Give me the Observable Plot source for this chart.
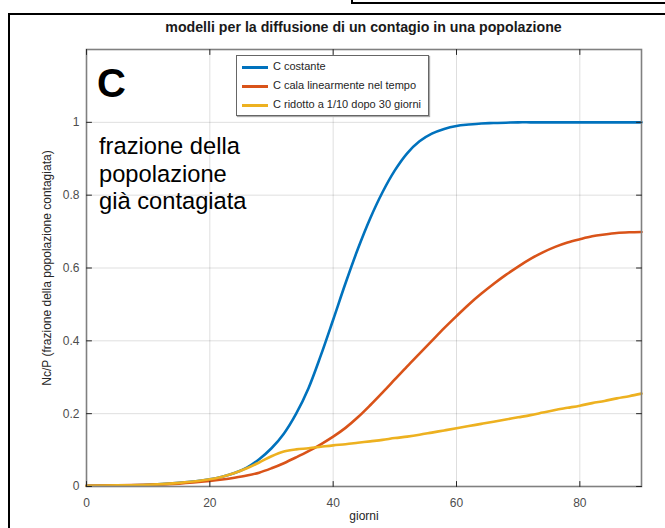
<!DOCTYPE html>
<html>
<head>
<meta charset="utf-8">
<script src="https://cdn.jsdelivr.net/npm/d3@7"></script>
<script src="https://cdn.jsdelivr.net/npm/@observablehq/plot@0.6"></script>
<style>
  html, body { margin: 0; padding: 0; background: #fff; }
  #wrap { position: relative; width: 665px; height: 528px; overflow: hidden; font-family: "Liberation Sans", Arial, sans-serif; }
  .abs { position: absolute; }
  #title { left: 0; width: 727px; top: 19px; text-align: center; font-weight: bold; font-size: 14.2px; color: #1a1a1a; }
  #bigC { left: 97px; top: 63px; font-size: 40px; font-weight: bold; color: #000; line-height: 1; }
  #note { left: 99px; top: 133px; font-size: 23.7px; color: #000; line-height: 27.5px; }
  #legend { left: 236px; top: 55px; width: 193px; height: 61px; border: 1px solid #666; background: #fff; box-shadow: 1px 1px 1px #aaa; box-sizing: border-box; }
  .li { position: absolute; left: 5px; height: 16px; font-size: 11px; color: #262626; white-space: nowrap; }
  .li span.sw { position: absolute; left: 0; top: 7px; width: 26px; height: 2.5px; }
  .li span.tx { position: absolute; left: 31px; top: 1px; }
</style>
</head>
<body>
<div id="wrap">
  <div id="chart" class="abs" style="left:0;top:0"></div>
  <div class="abs" style="left:8px;top:13px;width:657px;height:2px;background:#000"></div>
  <div class="abs" style="left:8px;top:13px;width:2px;height:515px;background:#000"></div>
  <div class="abs" style="left:351px;top:2px;width:314px;height:2px;background:#000"></div>
  <div class="abs" style="left:351px;top:0px;width:2px;height:4px;background:#000"></div>
  <div id="title" class="abs">modelli per la diffusione di un contagio in una popolazione</div>
  <div id="bigC" class="abs">C</div>
  <div id="note" class="abs">frazione della<br>popolazione<br>già contagiata</div>
  <div id="legend" class="abs"></div>
</div>
<script>
const days = [0,5,10,15,20,22,24,26,28,30,32,34,36,38,40,42,44,46,48,50,52,54,56,58,60,62,64,66,68,70,72,74,76,78,80,82,84,86,88,90];
const costante = [0.002,0.003,0.005,0.01,0.02,0.027,0.037,0.052,0.075,0.105,0.145,0.2,0.27,0.36,0.458,0.558,0.652,0.736,0.808,0.868,0.915,0.948,0.969,0.982,0.99,0.994,0.997,0.998,0.999,1,1,1,1,1,1,1,1,1,1,1];
const calaLineare = [0.002,0.003,0.005,0.008,0.015,0.019,0.024,0.03,0.038,0.05,0.064,0.08,0.097,0.116,0.137,0.161,0.19,0.223,0.258,0.294,0.33,0.365,0.4,0.435,0.468,0.5,0.529,0.556,0.581,0.604,0.625,0.643,0.658,0.67,0.679,0.687,0.692,0.696,0.698,0.699];
const ridotto = [0.002,0.003,0.005,0.01,0.02,0.027,0.037,0.05,0.066,0.083,0.096,0.102,0.105,0.109,0.113,0.116,0.12,0.124,0.128,0.133,0.137,0.142,0.148,0.154,0.16,0.166,0.172,0.178,0.184,0.19,0.196,0.203,0.21,0.216,0.222,0.229,0.235,0.242,0.248,0.255];
const seriesNames = ["C costante", "C cala linearmente nel tempo", "C ridotto a 1/10 dopo 30 giorni"];
const seriesColors = ["#0072BD", "#D95319", "#EDB120"];
const xTicks = [0,20,40,60,80];
const yTicks = [0,0.2,0.4,0.6,0.8,1];
const xLabel = "giorni";
const yLabel = "Nc/P (frazione della popolazione contagiata)";

const allSeries = [costante, calaLineare, ridotto];
const rows = allSeries.map((vals, s) => days.map((d, i) => ({day: d, v: vals[i], s: seriesNames[s]})));

const tickShape = {draw(context, l) { context.moveTo(0, 0); context.lineTo(0, -l); }};
const tickOpts = {length: 5, anchor: "start", shape: tickShape, stroke: "#262626", strokeWidth: 1};

const chart = Plot.plot({
  width: 665,
  height: 528,
  marginLeft: 86,
  marginRight: 24,
  marginTop: 49,
  marginBottom: 42,
  style: {fontFamily: "Liberation Sans, Arial, sans-serif", fontSize: "12px", color: "#4d4d4d", background: "transparent"},
  x: {domain: [0, 90]},
  y: {domain: [0, 1.2]},
  marks: [
    Plot.gridX(xTicks.filter(d => d > 0), {stroke: "#000", strokeOpacity: 0.13, strokeWidth: 1}),
    Plot.gridY(yTicks.filter(d => d > 0), {stroke: "#000", strokeOpacity: 0.13, strokeWidth: 1}),
    ...rows.map((r, s) => Plot.line(r, {x: "day", y: "v", stroke: seriesColors[s], strokeWidth: 2.6, curve: "catmull-rom"})),
    Plot.frame({stroke: "#808080", strokeWidth: 1.6}),
    Plot.vector(xTicks, {x: d => d, y: 0, rotate: 0, ...tickOpts}),
    Plot.vector(xTicks, {x: d => d, y: 1.2, rotate: 180, ...tickOpts}),
    Plot.vector(yTicks, {x: 0, y: d => d, rotate: 90, ...tickOpts}),
    Plot.vector(yTicks, {x: 90, y: d => d, rotate: -90, ...tickOpts}),
    Plot.axisX(xTicks, {anchor: "bottom", tickSize: 0, tickPadding: 12, tickFormat: d => String(d), label: null, color: "#4d4d4d"}),
    Plot.axisY(yTicks, {anchor: "left", tickSize: 0, tickPadding: 7, tickFormat: d => String(d), label: null, color: "#4d4d4d"}),
    Plot.text([xLabel], {frameAnchor: "bottom", dy: 33, fill: "#262626", fontSize: 12}),
    Plot.text([yLabel], {frameAnchor: "left", textAnchor: "middle", dx: -39, rotate: -90, fill: "#262626", fontSize: 12})
  ]
});
document.getElementById("chart").appendChild(chart);

const legend = document.getElementById("legend");
seriesNames.forEach((name, i) => {
  const li = document.createElement("div");
  li.className = "li";
  li.style.top = (3 + i * 19) + "px";
  li.style.width = "182px";
  li.innerHTML = `<span class="sw" style="background:${seriesColors[i]}"></span><span class="tx">${name}</span>`;
  legend.appendChild(li);
});
</script>
</body>
</html>
